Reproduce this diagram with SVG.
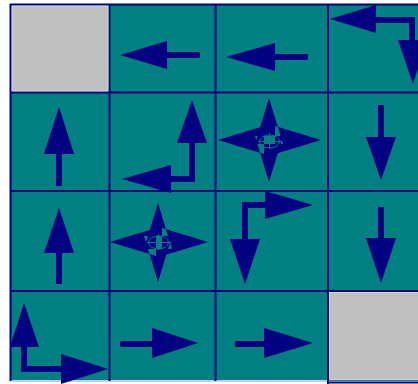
<svg xmlns="http://www.w3.org/2000/svg" width="418" height="384" viewBox="0 0 418 384">
<style>
.a{fill:#000080}
.g{fill:#c0c0c0;stroke:#d6d6e0;stroke-width:1}
.ln{stroke:#000080;stroke-width:2;fill:none}
.x{stroke:#008080;stroke-width:1;fill:none}
</style>
<rect x="0" y="0" width="418" height="384" fill="#ffffff"/>
<rect x="10" y="4" width="408" height="377" fill="#008080"/>
<rect x="10" y="380" width="318" height="2" fill="#c8c8f0"/>
<g id="grid">
<path class="ln" d="M10.5,4 V381 M109.5,4 V381 M215.5,4 V381 M328,4 V384 M10,4.5 H418 M10,92.5 H418 M10,191 H418 M10,291 H418 M328,382.5 H418"/>
</g>
<g id="c00"><rect class="g" x="12" y="6" width="96" height="85"/></g>
<g id="c01"><path class="a" d="M120,55 L167,41 L167,52 L200,52 L200,58 L167,58 L167,69 Z"/></g>
<g id="c02"><path class="a" d="M226,57 L275,43 L275,54 L308,54 L308,60 L275,60 L275,71 Z"/></g>
<g id="c03"><path class="a" d="M330,19 L376,5 L376,17 L415,17 L415,40 L427,40 L413,84 L398,40 L409,40 L409,23 L376,23 L376,33 Z"/></g>
<g id="c10"><path class="a" d="M59,107 L74,154 L62,154 L62,186 L56,186 L56,154 L44,154 Z"/></g>
<g id="c11"><path class="a" d="M192,100 L207,143 L195,143 L195,182 L171,182 L171,193 L122,179 L171,165 L171,176 L189,176 L189,143 L177,143 Z"/></g>
<g id="c12">
<path class="a" d="M269,98 L283,144 L255,144 Z M269,182 L283,136 L255,136 Z M218,140 L264,126 L264,154 Z M321,140 L275,126 L275,154 Z"/>
<ellipse class="x" cx="269.5" cy="141.5" rx="10" ry="6.5"/>
<path class="x" d="M258,141.5 H282 M269.5,133 V149"/>
</g>
<g id="c13"><path class="a" d="M378,105 L384,105 L384,137 L396,137 L381,180 L366,137 L378,137 Z"/></g>
<g id="c20"><path class="a" d="M59,208 L74,253 L62,253 L62,284 L56,284 L56,253 L44,253 Z"/></g>
<g id="c21">
<path class="a" d="M158,203 L172,249 L144,249 Z M158,282 L172,236 L144,236 Z M110,242 L156,228 L156,256 Z M208,242 L162,228 L162,256 Z"/>
<ellipse class="x" cx="158.5" cy="242.5" rx="10" ry="6.5"/>
<path class="x" d="M147,242.5 H171 M158.5,234 V250"/>
</g>
<g id="c22"><path class="a" d="M313,205 L265,219 L265,208 L248,208 L248,239 L260,239 L245,284 L230,239 L242,239 L242,202 L265,202 L265,191 Z"/></g>
<g id="c23"><path class="a" d="M378,207 L384,207 L384,238 L396,238 L381,283 L366,238 L378,238 Z"/></g>
<g id="c30"><path class="a" d="M24,303 L39,347 L27,347 L27,366 L61,366 L61,354 L108,369 L61,384 L61,372 L21,372 L21,347 L10,347 Z"/></g>
<g id="c31"><path class="a" d="M120,341 L152,341 L152,328 L198,343 L152,358 L152,347 L120,347 Z"/></g>
<g id="c32"><path class="a" d="M235,341 L264,341 L264,328 L313,343 L264,358 L264,347 L235,347 Z"/></g>
<g id="c33"><rect class="g" x="329.5" y="292.5" width="90" height="87"/></g>
</svg>
